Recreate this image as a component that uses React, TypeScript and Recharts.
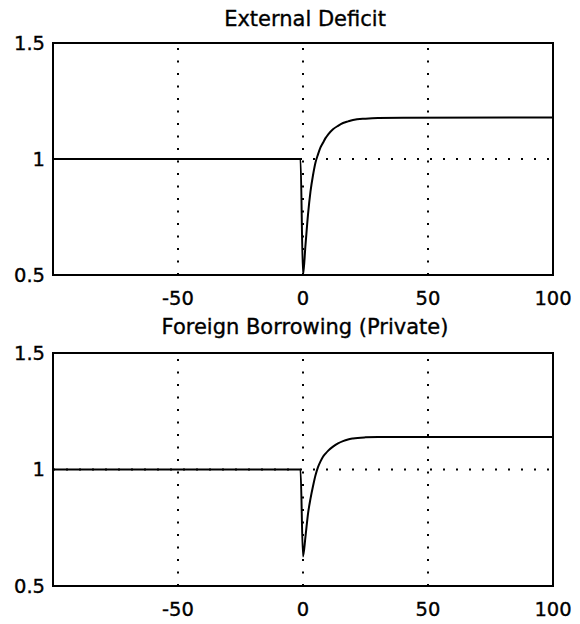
import { LineChart, Line, XAxis, YAxis, ReferenceLine, ReferenceArea } from "recharts"

// periods relative to the shock
const timeSteps = [-100, -1, 0, 1, 2, 3, 4, 5, 6, 7, 8, 9, 10, 12, 14, 16, 18, 20, 25, 30, 40, 100]
const externalDeficit = [1, 1, 0.5, 0.63, 0.76, 0.86, 0.93, 0.985, 1.02, 1.05, 1.07, 1.09, 1.105, 1.128, 1.143, 1.155, 1.162, 1.168, 1.174, 1.177, 1.178, 1.179]
const foreignBorrowing = [1, 1, 0.627, 0.713, 0.81, 0.875, 0.928, 0.975, 1.01, 1.035, 1.055, 1.068, 1.08, 1.098, 1.112, 1.122, 1.129, 1.133, 1.138, 1.14, 1.14, 1.14]

const xTicks = [-50, 0, 50, 100]
const yTicks = [0.5, 1, 1.5]
const gridX = [-50, 0, 50]
const gridY = [1]

const font = "'DejaVu Sans', sans-serif"
const tickStyle = { fill: "#000", stroke: "#000", strokeWidth: 0.35, fontSize: 19.5, fontFamily: font }

const deficitData = timeSteps.map((t, i) => ({ t, v: externalDeficit[i] }))
const borrowingData = timeSteps.map((t, i) => ({ t, v: foreignBorrowing[i] }))

function Panel({ data, height, top, xAxisHeight }: { data: { t: number; v: number }[]; height: number; top: number; xAxisHeight: number }) {
    return (
        <LineChart width={580} height={height} data={data} margin={{ top, right: 27, left: 0, bottom: 0 }}>
            <XAxis
                dataKey="t"
                type="number"
                domain={[-100, 100]}
                ticks={xTicks}
                height={xAxisHeight}
                axisLine={false}
                tickLine={false}
                tickSize={0}
                tickMargin={16}
                tick={tickStyle}
                allowDataOverflow
            />
            <YAxis
                type="number"
                domain={[0.5, 1.5]}
                ticks={yTicks}
                width={53}
                axisLine={false}
                tickLine={false}
                tickSize={0}
                tickMargin={8}
                tick={tickStyle}
                allowDataOverflow
            />
            {gridX.map((x) => (
                <ReferenceLine key={"x" + x} x={x} stroke="#000" strokeWidth={2} strokeDasharray="2 10.5" />
            ))}
            {gridY.map((y) => (
                <ReferenceLine key={"y" + y} y={y} stroke="#000" strokeWidth={2} strokeDasharray="2 11" />
            ))}
            <ReferenceArea x1={-100} x2={100} y1={0.5} y2={1.5} fill="none" stroke="#000" strokeWidth={2} />
            <Line type="monotone" dataKey="v" stroke="#000" strokeWidth={2} dot={false} isAnimationActive={false} />
        </LineChart>
    )
}

export default function App() {
    return (
        <div style={{ position: "absolute", left: 0, top: 0, width: 580, height: 624, background: "#fff" }}>
            <div style={{ position: "absolute", left: 0, top: 0 }}>
                <Panel data={deficitData} height={324} top={43} xAxisHeight={49} />
            </div>
            <div style={{ position: "absolute", left: 0, top: 300 }}>
                <Panel data={borrowingData} height={324} top={53} xAxisHeight={38} />
            </div>
            <svg width={580} height={624} style={{ position: "absolute", left: 0, top: 0, pointerEvents: "none" }}>
                <text x={305} y={26} textAnchor="middle" fontSize={21} fontFamily={font} fill="#000" stroke="#000" strokeWidth={0.35}>External Deficit</text>
                <text x={305} y={334} textAnchor="middle" fontSize={21} fontFamily={font} fill="#000" stroke="#000" strokeWidth={0.35}>Foreign Borrowing (Private)</text>
            </svg>
        </div>
    )
}
